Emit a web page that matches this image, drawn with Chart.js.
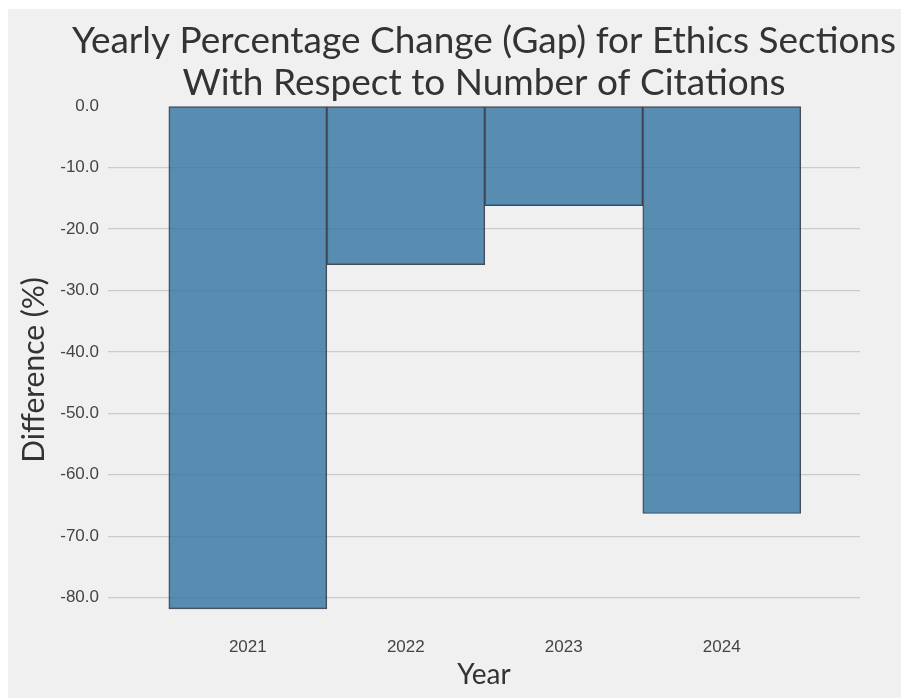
<!DOCTYPE html>
<html lang="en">
<head>
<meta charset="UTF-8">
<title>Yearly Percentage Change (Gap)</title>
<script src="https://cdn.jsdelivr.net/npm/chart.js"></script>
<style>
  body { margin: 0; background: #fff; }
  #wrap { position: absolute; left: 8px; top: 9px; width: 893px; height: 689px; background: #f0f0f0; }
</style>
</head>
<body>
<div id="wrap"><canvas id="chart" width="893" height="689"></canvas></div>
<script>
const years = [2021, 2022, 2023, 2024];
const gapPct = [-81.8, -25.8, -16.2, -66.3];
const yTicks = [0, -10, -20, -30, -40, -50, -60, -70, -80];

const tickFont = { family: 'Liberation Sans', size: 17 };

// title box is as wide as the canvas, so re-centre it over the plot area
const centerTitle = {
  id: 'centerTitle',
  afterLayout(chart) {
    const t = chart.titleBlock, a = chart.chartArea;
    const mid = (a.left + a.right) / 2;
    t.left = mid - 445;
    t.right = mid + 445;
  }
};

new Chart(document.getElementById('chart'), {
  type: 'bar',
  data: {
    datasets: [{
      data: years.map((y, i) => ({ x: y, y: gapPct[i] })),
      backgroundColor: 'rgba(50, 115, 160, 0.8)',
      borderColor: 'rgba(40, 45, 55, 0.85)',
      borderWidth: 1,
      borderSkipped: false,
      barPercentage: 1,
      categoryPercentage: 1
    }]
  },
  plugins: [centerTitle],
  options: {
    responsive: false,
    animation: false,
    layout: { padding: { left: 0, right: 41, top: 0, bottom: 0 } },
    plugins: {
      legend: { display: false },
      tooltip: { enabled: false },
      title: {
        display: true,
        text: ['Yearly Percentage Change (Gap) for Ethics Sections', 'With Respect to Number of Citations'],
        color: '#333',
        font: { family: 'Lato', size: 37, weight: 'normal', lineHeight: 1.135 },
        padding: { top: 11, bottom: 2 }
      }
    },
    scales: {
      x: {
        type: 'linear',
        offset: false,
        min: 2020.115,
        max: 2024.875,
        afterBuildTicks: s => { s.ticks = years.map(v => ({ value: v })); },
        afterFit: s => { s.height = 64; },
        grid: { display: false, drawTicks: false, offset: false },
        border: { display: false },
        ticks: { color: '#444', font: tickFont, padding: 3, callback: v => String(v) },
        title: { display: true, text: 'Year', color: '#333', font: { family: 'Lato', size: 28 }, padding: { top: 0, bottom: 6 } }
      },
      y: {
        min: -85.9,
        max: 0,
        afterBuildTicks: s => { s.ticks = yTicks.map(v => ({ value: v })); },
        afterFit: s => { s.width = 100; },
        grid: {
          drawTicks: false,
          lineWidth: 1.3,
          color: c => (c.tick && c.tick.value === 0 ? 'rgba(0,0,0,0)' : '#cbcbcb')
        },
        border: { display: false },
        ticks: { color: '#444', font: tickFont, padding: 9, callback: v => v.toFixed(1) },
        title: { display: true, text: 'Difference (%)', color: '#333', font: { family: 'Lato', size: 30 }, padding: { top: 8, bottom: 0 } }
      }
    }
  }
});
</script>
</body>
</html>
